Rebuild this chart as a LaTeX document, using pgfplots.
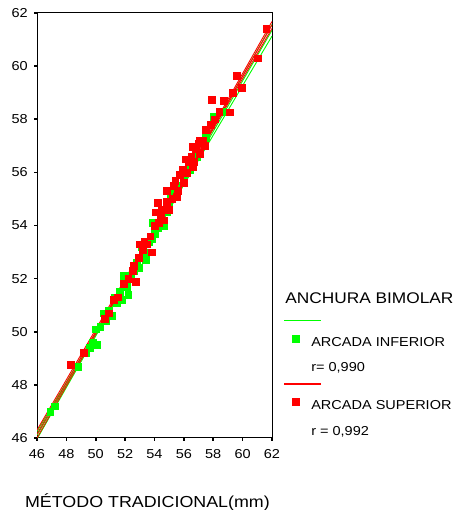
\documentclass[border=0pt]{standalone}
\usepackage{pgfplots}
\pgfplotsset{compat=1.18}
\usepackage{fontspec}
\setmainfont{Liberation Sans}[FakeStretch=1.12]
\definecolor{gr}{RGB}{0,255,0}
\definecolor{rd}{RGB}{255,0,0}
\begin{document}
\begin{tikzpicture}
\useasboundingbox (0,0) rectangle (467bp,510bp);
\fill[white] (0,0) rectangle (467bp,510bp);
\begin{axis}[
 at={(37bp,72bp)}, anchor=south west,
 scale only axis, width=235bp, height=425bp,
 xmin=46, xmax=62, ymin=46, ymax=62,
 xtick={46,48,...,62}, ytick={46,48,...,62},
 tick pos=left, tick align=outside, major tick length=3bp,
 tick style={line width=1.6bp, black},
 axis line style={line width=1bp, black},
 /pgf/number format/assume math mode=true,
 ticklabel style={font=\fontsize{13}{15}\selectfont},
 xticklabel style={yshift=-5bp},
 yticklabel style={xshift=-2.7bp},
 xlabel={MÉTODO TRADICIONAL(mm)},
 xlabel style={font=\fontsize{16}{19}\selectfont, anchor=base, at={(axis description cs:0.470,-0.1624)}},
 legend cell align=left,
 legend style={at={(axis description cs:1.0851,0.3541)}, anchor=north west,
   draw=none, fill=none, inner sep=0pt, outer sep=0pt, row sep=0pt, column sep=12bp,
   nodes={inner sep=0pt, outer sep=0pt, text height=15.7bp, text depth=6.3bp},
   font=\fontsize{13}{15}\selectfont},
]
% ARCADA INFERIOR (green)
\addplot[only marks, mark=square*, mark size=3.4bp, color=gr, mark options={draw=gr, fill=gr, line width=0.3bp}, forget plot] coordinates {
(46.9,47.0) (47.2,47.2) (48.8,48.7) (49.3,49.2) (49.6,49.4) (49.8,49.6)
(50.0,50.1) (50.1,49.5) (50.3,50.2) (50.5,50.7) (50.7,50.4) (50.9,50.8)
(51.1,50.6) (51.3,51.3) (51.4,51.1) (51.6,51.5) (51.8,51.2) (51.9,52.1)
(52.1,51.7) (52.2,51.4) (52.3,52.1) (52.4,52.0) (52.6,52.3) (52.8,52.6)
(52.9,52.4) (53.1,53.2) (53.3,52.9) (53.4,52.7) (53.5,53.0) (53.6,53.4)
(53.8,53.5) (53.9,54.1) (54.0,53.7) (54.2,53.9) (54.4,54.3) (54.6,54.0)
(54.8,54.5) (55.0,54.8) (55.1,55.0) (55.3,55.2) (55.6,55.5) (56.0,55.8)
(56.4,56.1) (56.9,56.6) (57.5,57.3) (58.0,58.1) (58.6,58.3)
};
% ARCADA SUPERIOR (red)
\addplot[only marks, mark=square*, mark size=3.4bp, color=rd, mark options={draw=rd, fill=rd, line width=0.3bp}, forget plot] coordinates {
(48.3,48.75) (49.2,49.2) (50.6,50.5) (50.9,50.7) (51.2,51.2) (51.5,51.3)
(51.9,51.8) (52.2,52.0) (52.5,52.3) (52.6,52.5) (52.7,51.9) (52.9,52.8)
(53.0,53.3) (53.2,53.1) (53.3,53.4) (53.5,53.3) (53.7,53.6) (53.8,53.0)
(54.0,54.0) (54.1,54.5) (54.2,54.85) (54.3,54.1) (54.4,54.3) (54.5,54.6)
(54.6,54.2) (54.8,54.9) (54.85,55.3) (55.0,54.6) (55.2,55.0) (55.3,55.5)
(55.4,55.7) (55.5,55.1) (55.6,55.3) (55.7,55.9) (55.9,56.1) (56.0,55.6)
(56.1,56.5) (56.2,56.0) (56.3,56.4) (56.5,56.6) (56.6,56.96) (56.6,56.2)
(56.7,56.4) (56.8,56.9) (57.0,57.1) (57.1,56.7) (57.1,57.2) (57.3,57.2)
(57.4,57.0) (57.5,57.6) (57.8,57.8) (57.9,58.73) (58.1,58.0) (58.4,58.3)
(58.7,58.7) (59.1,58.27) (59.3,59.0) (59.6,59.63) (59.96,59.2) (61.0,60.3)
(61.6,61.4)
};
% green fit and confidence bounds
\addplot[color=gr, line width=0.9bp, smooth, forget plot] coordinates {(46,46.10) (50,49.91) (54,53.72) (58,57.54) (62,61.35)};
\addplot[color=gr, line width=0.9bp, smooth, forget plot] coordinates {(46,46.24) (50,49.98) (54,53.79) (58,57.68) (62,61.57)};
\addplot[color=gr, line width=0.9bp, smooth, forget plot] coordinates {(46,45.96) (50,49.84) (54,53.65) (58,57.40) (62,61.13)};
% red fit and confidence bounds
\addplot[color=rd, line width=0.9bp, smooth, forget plot] coordinates {(46,46.15) (50,50.00) (54,53.85) (58,57.70) (62,61.55)};
\addplot[color=rd, line width=0.9bp, smooth, forget plot] coordinates {(46,46.30) (50,50.09) (54,53.90) (58,57.77) (62,61.68)};
\addplot[color=rd, line width=0.9bp, smooth, forget plot] coordinates {(46,46.00) (50,49.91) (54,53.80) (58,57.63) (62,61.42)};
% legend
\addlegendimage{legend image code/.code={}}
\addlegendentry{\fontsize{15.5}{18}\selectfont\hspace*{-26bp}ANCHURA BIMOLAR}
\addlegendimage{legend image code/.code={\draw[draw=gr, line width=1.4bp, overlay] (-8bp,0bp) -- (29bp,0bp);}}
\addlegendentry{\mbox{}}
\addlegendimage{legend image code/.code={\filldraw[fill=gr, draw=gr, line width=0.3bp] (0bp,0.5bp) rectangle (7bp,7.5bp);}}
\addlegendentry{\raisebox{1.2bp}{ARCADA INFERIOR}}
\addlegendimage{legend image code/.code={}}
\addlegendentry{\raisebox{-2.2bp}{r= 0,990}}
\addlegendimage{legend image code/.code={\draw[draw=rd, line width=1.4bp, overlay] (-8bp,2.5bp) -- (29bp,2.5bp);}}
\addlegendentry{\mbox{}}
\addlegendimage{legend image code/.code={\filldraw[fill=rd, draw=rd, line width=0.3bp] (0bp,3.3bp) rectangle (7bp,10.3bp);}}
\addlegendentry{\raisebox{3.5bp}{ARCADA SUPERIOR}}
\addlegendimage{legend image code/.code={}}
\addlegendentry{r = 0,992}
\end{axis}
\end{tikzpicture}
\end{document}
